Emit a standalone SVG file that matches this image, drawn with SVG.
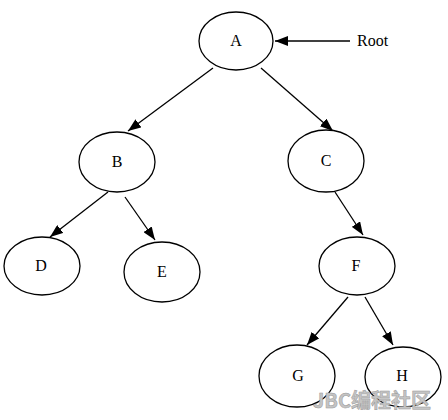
<svg xmlns="http://www.w3.org/2000/svg" width="448" height="420" viewBox="0 0 448 420">
<defs>
<marker id="ah" markerUnits="userSpaceOnUse" markerWidth="14" markerHeight="10" refX="13" refY="5" orient="auto">
<path d="M0,0 L13,5 L0,10 Z" fill="#000"/>
</marker>
<style>
ellipse{fill:#fff;stroke:#000;stroke-width:1.3}
.lbl{font-family:"Liberation Serif","DejaVu Serif",serif;font-size:16px;fill:#000;text-anchor:middle}
.edge{stroke:#000;stroke-width:1.3;fill:none;marker-end:url(#ah)}
</style>
</defs>
<rect width="448" height="420" fill="#fff"/>
<g id="connectors">
<line class="edge" x1="213" y1="68" x2="128" y2="131"/>
<line class="edge" x1="261" y1="68" x2="333" y2="131"/>
<line class="edge" x1="108" y1="192" x2="50" y2="237"/>
<line class="edge" x1="125" y1="197" x2="155" y2="240"/>
<line class="edge" x1="335" y1="192" x2="363" y2="235"/>
<line class="edge" x1="348" y1="297" x2="307" y2="345"/>
<line class="edge" x1="365" y1="297" x2="393" y2="345"/>
<line class="edge" x1="350" y1="41" x2="275" y2="41"/>
</g>
<g id="A"><ellipse cx="236" cy="41" rx="37" ry="29"/><text class="lbl" x="236" y="46">A</text></g>
<g id="B"><ellipse cx="117" cy="162" rx="38" ry="30"/><text class="lbl" x="117" y="167">B</text></g>
<g id="C"><ellipse cx="326" cy="161" rx="38" ry="31"/><text class="lbl" x="326" y="166">C</text></g>
<g id="D"><ellipse cx="42" cy="266" rx="38" ry="29"/><text class="lbl" x="41" y="271">D</text></g>
<g id="E"><ellipse cx="162" cy="272" rx="38" ry="30"/><text class="lbl" x="162" y="277">E</text></g>
<g id="F"><ellipse cx="357" cy="266" rx="38" ry="29"/><text class="lbl" x="356" y="271">F</text></g>
<g id="G"><ellipse cx="297" cy="376" rx="38" ry="31"/><text class="lbl" x="298" y="381">G</text></g>
<g id="H"><ellipse cx="403" cy="377" rx="38" ry="30"/><text class="lbl" x="402" y="381">H</text></g>
<g id="Root"><text class="lbl" x="357" y="46" style="text-anchor:start">Root</text></g>
<text x="313" y="408" font-family="'Noto Sans CJK SC',sans-serif" font-size="20" font-weight="bold" fill="#c4c4c4" stroke="#9a9a9a" stroke-width="0.5">JBC编程社区</text>
</svg>
